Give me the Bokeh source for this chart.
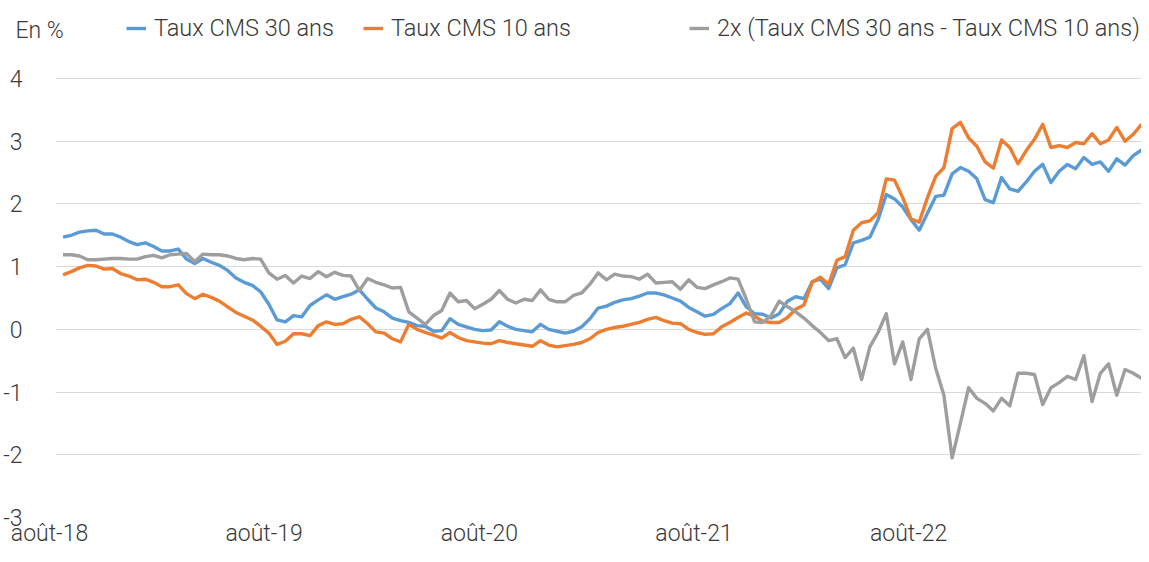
import pandas as pd
from bokeh.plotting import figure
from bokeh.models import Range1d, FixedTicker, Legend, LegendItem, Label
from bokeh.embed import file_html
from bokeh.resources import INLINE

# ---------------- data ----------------
start_date = "2018-08-24"          # first observation, then one value every 14 days
step = "14D"

taux_cms_30 = [
    1.47, 1.50, 1.55, 1.57, 1.58, 1.52, 1.52, 1.47, 1.40, 1.35,
    1.38, 1.32, 1.25, 1.25, 1.28, 1.12, 1.05, 1.13, 1.07, 1.02,
    0.94, 0.82, 0.75, 0.70, 0.60, 0.40, 0.15, 0.12, 0.22, 0.20,
    0.38, 0.47, 0.55, 0.48, 0.52, 0.56, 0.63, 0.48, 0.34, 0.28,
    0.18, 0.14, 0.11, 0.06, 0.05, -0.03, -0.02, 0.17, 0.08, 0.04,
    0.00, -0.02, -0.01, 0.12, 0.05, 0.00, -0.02, -0.04, 0.08, 0.00,
    -0.03, -0.06, -0.03, 0.04, 0.17, 0.34, 0.37, 0.43, 0.47, 0.49,
    0.53, 0.58, 0.58, 0.55, 0.50, 0.45, 0.35, 0.28, 0.21, 0.24,
    0.33, 0.41, 0.58, 0.36, 0.25, 0.24, 0.18, 0.25, 0.45, 0.52,
    0.49, 0.76, 0.80, 0.65, 0.98, 1.03, 1.38, 1.42, 1.47, 1.75,
    2.15, 2.08, 1.95, 1.75, 1.58, 1.85, 2.12, 2.14, 2.48, 2.58,
    2.52, 2.40, 2.07, 2.02, 2.42, 2.24, 2.20, 2.35, 2.52, 2.63,
    2.34, 2.52, 2.63, 2.56, 2.74, 2.63, 2.67, 2.52, 2.72, 2.62,
    2.77, 2.86,
]

taux_cms_10 = [
    0.87, 0.92, 0.98, 1.02, 1.01, 0.96, 0.97, 0.89, 0.85, 0.79,
    0.80, 0.75, 0.68, 0.68, 0.71, 0.57, 0.49, 0.56, 0.51, 0.45,
    0.36, 0.27, 0.21, 0.15, 0.05, -0.06, -0.24, -0.19, -0.07, -0.07,
    -0.10, 0.06, 0.12, 0.08, 0.09, 0.16, 0.20, 0.09, -0.04, -0.06,
    -0.15, -0.20, 0.08, 0.00, -0.05, -0.09, -0.14, -0.05, -0.13, -0.18,
    -0.20, -0.22, -0.23, -0.18, -0.21, -0.23, -0.25, -0.27, -0.18, -0.25,
    -0.28, -0.26, -0.24, -0.21, -0.15, -0.05, 0.00, 0.03, 0.05, 0.08,
    0.11, 0.16, 0.19, 0.14, 0.10, 0.09, 0.00, -0.05, -0.08, -0.07,
    0.04, 0.11, 0.19, 0.26, 0.21, 0.13, 0.11, 0.11, 0.19, 0.32,
    0.39, 0.75, 0.83, 0.72, 1.10, 1.16, 1.58, 1.70, 1.73, 1.86,
    2.40, 2.38, 2.10, 1.76, 1.71, 2.10, 2.44, 2.58, 3.20, 3.30,
    3.05, 2.92, 2.67, 2.57, 3.02, 2.90, 2.64, 2.85, 3.03, 3.27,
    2.90, 2.93, 2.90, 2.98, 2.96, 3.12, 2.96, 3.02, 3.22, 3.00,
    3.11, 3.27,
]

spread_2x = [
    1.19, 1.19, 1.17, 1.11, 1.11, 1.12, 1.13, 1.13, 1.12, 1.12,
    1.16, 1.18, 1.14, 1.19, 1.20, 1.21, 1.08, 1.20, 1.19, 1.19,
    1.17, 1.13, 1.11, 1.13, 1.12, 0.90, 0.80, 0.86, 0.74, 0.85,
    0.81, 0.92, 0.84, 0.91, 0.86, 0.85, 0.62, 0.81, 0.75, 0.71,
    0.66, 0.67, 0.28, 0.18, 0.08, 0.22, 0.30, 0.58, 0.44, 0.46,
    0.33, 0.40, 0.48, 0.62, 0.48, 0.42, 0.48, 0.46, 0.63, 0.48,
    0.44, 0.44, 0.54, 0.58, 0.72, 0.90, 0.79, 0.88, 0.85, 0.84,
    0.80, 0.88, 0.74, 0.75, 0.76, 0.64, 0.79, 0.67, 0.65, 0.71,
    0.76, 0.82, 0.80, 0.48, 0.12, 0.11, 0.22, 0.45, 0.36, 0.28,
    0.18, 0.06, -0.05, -0.18, -0.15, -0.45, -0.30, -0.80, -0.28, -0.05,
    0.25, -0.55, -0.20, -0.80, -0.15, 0.00, -0.62, -1.05, -2.05, -1.50,
    -0.93, -1.10, -1.18, -1.30, -1.10, -1.22, -0.70, -0.70, -0.72, -1.20,
    -0.93, -0.85, -0.75, -0.80, -0.42, -1.15, -0.70, -0.55, -1.05, -0.64,
    -0.70, -0.78,
]

series_names = ["Taux CMS 30 ans", "Taux CMS 10 ans",
                "2x (Taux CMS 30 ans - Taux CMS 10 ans)"]
series_colors = ["#5B9BD5", "#ED7D31", "#9E9E9E"]

x_tick_dates = ["2018-08-01", "2019-08-01", "2020-08-01", "2021-08-01", "2022-08-01"]
x_tick_labels = ["août-18", "août-19", "août-20", "août-21", "août-22"]
y_ticks = [-3, -2, -1, 0, 1, 2, 3, 4]
y_unit_label = "En %"

# ---------------- layout constants (pixels) ----------------
FRAME_W, FRAME_H = 1139, 517
TICK0_PX = 47          # first date tick, from the frame's left edge
GRID_START_PX = 53     # grid lines start a little to the right of it
TOP_PX = 78            # top grid line, from the frame's top edge
FONT = "'Roboto Light', Roboto"
TXT = "#3A3A3A"

dates = pd.date_range(start_date, periods=len(taux_cms_30), freq=step)


def ms(d):
    return float(pd.Timestamp(d).value // 10**6)


t0, t_end = ms(x_tick_dates[0]), ms(dates[-1])
ms_per_px = (t_end - t0) / (FRAME_W - TICK0_PX)
x_start = t0 - TICK0_PX * ms_per_px

y_lo, y_hi = min(y_ticks), max(y_ticks)
px_per_unit = (FRAME_H - TOP_PX) / (y_hi - y_lo)
y_end = y_hi + TOP_PX / px_per_unit

p = figure(frame_width=FRAME_W, frame_height=FRAME_H,
           output_backend="svg", toolbar_location=None,
           x_axis_type="datetime",
           x_range=Range1d(x_start, t_end),
           y_range=Range1d(y_lo, y_end),
           min_border_top=0, min_border_bottom=0,
           min_border_left=0, min_border_right=0)
p.outline_line_color = None
p.background_fill_color = "white"
p.border_fill_color = "white"

renderers = []
for vals, col in zip([taux_cms_30, taux_cms_10, spread_2x], series_colors):
    r = p.line(dates, vals, line_color=col, line_width=3.4, line_join="round")
    renderers.append(r)

# axes
p.xaxis.ticker = FixedTicker(ticks=[ms(d) for d in x_tick_dates])
p.xaxis.major_label_overrides = {ms(d): lab for d, lab in zip(x_tick_dates, x_tick_labels)}
p.yaxis.ticker = FixedTicker(ticks=y_ticks)
p.yaxis.major_label_overrides = {t: str(t) for t in y_ticks}
for ax in (p.xaxis, p.yaxis):
    ax.axis_line_color = None
    ax.major_tick_line_color = None
    ax.minor_tick_line_color = None
    ax.major_tick_in = 0
    ax.major_tick_out = 0
    ax.minor_tick_in = 0
    ax.minor_tick_out = 0
    ax.major_label_text_font = FONT
    ax.major_label_text_font_size = "23px"
    ax.major_label_text_color = TXT
p.xaxis.major_label_standoff = 2
p.yaxis.major_label_standoff = -20   # labels sit in the white margin left of the grid

p.xgrid.visible = False
p.ygrid.grid_line_color = "#D9D9D9"
p.ygrid.grid_line_width = 1
try:
    p.ygrid.cross_bounds = (x_start + GRID_START_PX * ms_per_px, t_end)
except Exception:
    pass

# unit label
p.add_layout(Label(x=13, y=FRAME_H - 30, x_units="screen", y_units="screen",
                   text=y_unit_label, text_font=FONT, text_font_size="23px",
                   text_color=TXT, text_baseline="middle"))

# legends (one per entry, to reproduce the uneven spacing)
legend_x = [124, 361, 687]
for name, r, lx in zip(series_names, renderers, legend_x):
    leg = Legend(items=[LegendItem(label=name, renderers=[r])],
                 location=(lx, FRAME_H - 42), orientation="horizontal",
                 padding=0, margin=0, spacing=0, border_line_color=None,
                 background_fill_alpha=0, label_text_font=FONT,
                 label_text_font_size="23.5px", label_text_color=TXT,
                 glyph_width=20, glyph_height=20, label_standoff=8)
    p.add_layout(leg)

open("out.html", "w").write(file_html(p, INLINE))
